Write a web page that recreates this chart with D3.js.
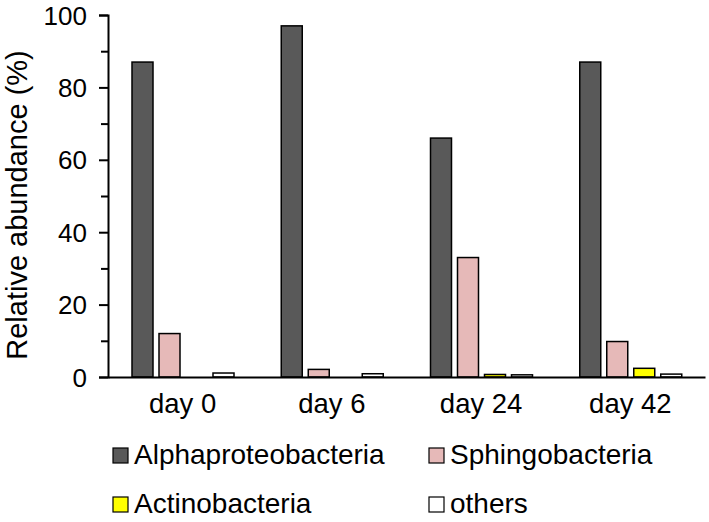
<!DOCTYPE html>
<html><head><meta charset="utf-8">
<script src="https://cdn.jsdelivr.net/npm/d3@7"></script>
<style>body{margin:0;background:#fff}svg{display:block}text{font-family:"Liberation Sans",Arial,sans-serif;fill:#000}</style>
</head><body><svg id="c" width="709" height="522"></svg>
<script>
const categories = ["day 0", "day 6", "day 24", "day 42"];
const seriesNames = ["Alphaproteobacteria", "Sphingobacteria", "Actinobacteria", "others"];
const alpha = [87, 97, 66, 87];
const sphingo = [12, 2.1, 33, 9.8];
const actino = [0, 0, 0.7, 2.4];
const others = [1.1, 0.9, 0.6, 0.8];
const colors = ["#595959", "#e6b9b8", "#ffff00", "#ffffff"];
const yMajorTicks = [0, 20, 40, 60, 80, 100];
const yMinorTicks = [10, 30, 50, 70, 90];

(function () {
const values = [alpha, sphingo, actino, others];
const svg = d3.select("#c");
const mLeft = 108, mRight = 705, mTop = 15, mBottom = 377;
const x = d3.scaleBand().domain(categories).range([mLeft, mRight]);
const xi = d3.scaleBand().domain(seriesNames).range([24, 126]).paddingInner(6/27);
const y = d3.scaleLinear().domain([0, 100]).range([mBottom, mTop]);

// bars
seriesNames.forEach((s, si) => {
  svg.append("g").selectAll("rect").data(categories).join("rect")
    .attr("x", d => x(d) + xi(s))
    .attr("y", (d, i) => y(values[si][i]))
    .attr("width", xi.bandwidth())
    .attr("height", (d, i) => y(0) - y(values[si][i]))
    .attr("fill", colors[si])
    .attr("stroke", "#000").attr("stroke-width", 1.5);
});

// y axis
const ya = svg.append("g").attr("transform", `translate(${mLeft},0)`)
  .call(d3.axisLeft(y).tickValues(yMajorTicks).tickSize(9).tickPadding(12).tickFormat(d3.format("d")));
ya.select(".domain").attr("stroke", "#000").attr("stroke-width", 2);
ya.selectAll(".tick line").attr("stroke", "#000").attr("stroke-width", 2);
ya.selectAll(".tick text").style("font-size", "26px").attr("dy", "0.35em");
const ym = svg.append("g").attr("transform", `translate(${mLeft},0)`)
  .call(d3.axisLeft(y).tickValues(yMinorTicks).tickSize(7).tickFormat(""));
ym.select(".domain").remove();
ym.selectAll(".tick line").attr("stroke", "#000").attr("stroke-width", 2);

// x axis
const xa = svg.append("g").attr("transform", `translate(0,${mBottom})`)
  .call(d3.axisBottom(x).tickSize(0).tickPadding(16));
xa.select(".domain").attr("stroke", "#000").attr("stroke-width", 2);
xa.selectAll(".tick text").style("font-size", "27.5px").attr("dy", "0.71em");

// y title
svg.append("text").attr("transform", "translate(27,205) rotate(-90)")
  .attr("text-anchor", "middle").style("font-size", "29px").text("Relative abundance (%)");

// legend
const legPos = [[113, 464], [429, 464], [113, 513], [429, 513]];
seriesNames.forEach((s, i) => {
  const [lx, ly] = legPos[i];
  svg.append("rect").attr("x", lx).attr("y", ly - 16).attr("width", 15).attr("height", 15)
    .attr("fill", colors[i]).attr("stroke", "#000").attr("stroke-width", 1.2);
  svg.append("text").attr("x", lx + 21).attr("y", ly)
    .style("font-size", "28px").text(s);
});
})();
</script></body></html>
